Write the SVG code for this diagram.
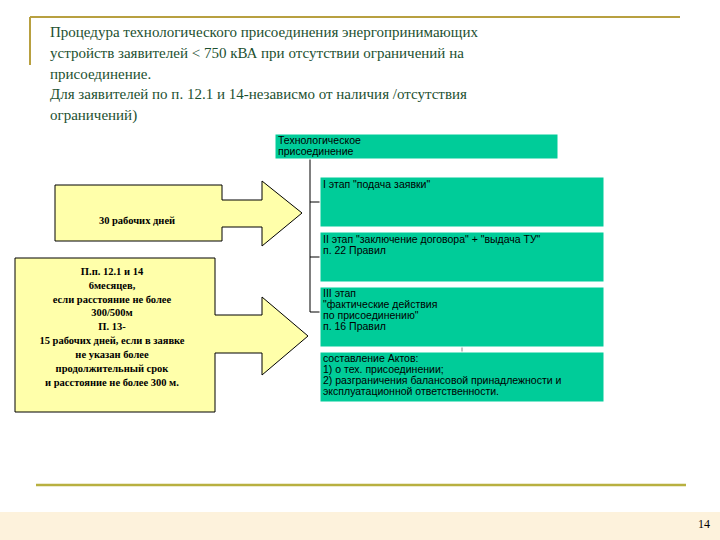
<svg xmlns="http://www.w3.org/2000/svg" width="720" height="540" viewBox="0 0 720 540">
<style>
.t{font-family:"Liberation Serif",serif;font-size:15px;fill:#1c5030}
.n{fill:#00cc99;stroke:#fff;stroke-width:1}
.s{font-family:"Liberation Sans",Arial,sans-serif;font-size:10.5px;fill:#000}
.y{fill:#ffffaa;stroke:#000;stroke-width:1}
.b{font-family:"Liberation Serif",serif;font-size:10.5px;font-weight:bold;fill:#000;text-anchor:middle}
.c{stroke:#000;stroke-width:1;fill:none}
</style>
<rect width="720" height="540" fill="#fff"/>
<rect y="512" width="720" height="28" fill="#fdf2dc"/>
<line x1="30" y1="17" x2="680" y2="17" stroke="#b8a040" stroke-width="2"/>
<line x1="30" y1="17" x2="30" y2="65" stroke="#b8a040" stroke-width="2"/>
<line x1="36" y1="485" x2="686" y2="485" stroke="#b8b040" stroke-width="2.5"/>
<text x="704" y="528" font-family="Liberation Serif,serif" font-size="12" text-anchor="middle">14</text>
<g id="title">
<text class="t" x="50" y="37">Процедура технологического присоединения энергопринимающих</text>
<text class="t" x="50" y="58">устройств заявителей &lt; 750 кВА при отсутствии ограничений на</text>
<text class="t" x="50" y="79">присоединение.</text>
<text class="t" x="50" y="99">Для заявителей по п. 12.1 и 14-независмо от наличия /отсутствия</text>
<text class="t" x="50" y="120">ограничений)</text>
</g>
<g id="connectors">
<path class="c" d="M310 158V312H320M310 202H320M310 257H320"/>
<line x1="462" y1="347" x2="462" y2="352" stroke="#888"/>
</g>
<g id="n0"><rect class="n" x="275" y="134" width="283" height="25"/>
<text class="s" x="278" y="144">Технологическое</text><text class="s" x="278" y="155">присоединение</text></g>
<g id="n1"><rect class="n" x="320" y="177" width="284" height="50"/>
<text class="s" x="323" y="188">I этап "подача заявки"</text></g>
<g id="n2"><rect class="n" x="320" y="232" width="284" height="50"/>
<text class="s" x="323" y="243">II этап "заключение договора" + "выдача ТУ"</text><text class="s" x="323" y="254">п. 22 Правил</text></g>
<g id="n3"><rect class="n" x="320" y="287" width="284" height="60"/>
<text class="s" x="323" y="297">III этап</text><text class="s" x="323" y="308">"фактические действия</text><text class="s" x="323" y="319">по присоединению"</text><text class="s" x="323" y="330">п. 16 Правил</text></g>
<g id="n4"><rect class="n" x="320" y="352" width="284" height="50"/>
<text class="s" x="323" y="362">составление Актов:</text><text class="s" x="323" y="373">1) о тех. присоединении;</text><text class="s" x="323" y="384">2) разграничения балансовой принадлежности и</text><text class="s" x="323" y="395"> эксплуатационной ответственности.</text></g>
<g id="a1"><path class="y" d="M55 185H222V200H262V181L302 213L262 246V227H222V241H55Z"/>
<text class="b" x="137" y="224">30 рабочих дней</text></g>
<g id="a2"><path class="y" d="M15 258H215V315H262V297L308 336L262 375V353H215V412H15Z"/>
<text class="b" x="112" y="275">П.п. 12.1 и 14</text>
<text class="b" x="112" y="289">6месяцев,</text>
<text class="b" x="112" y="303">если расстояние не более</text>
<text class="b" x="112" y="316">300/500м</text>
<text class="b" x="112" y="330">П. 13-</text>
<text class="b" x="112" y="344">15 рабочих дней, если в заявке</text>
<text class="b" x="112" y="358">не указан более</text>
<text class="b" x="112" y="372">продолжительный срок</text>
<text class="b" x="112" y="386">и расстояние не более 300 м.</text></g>
</svg>
